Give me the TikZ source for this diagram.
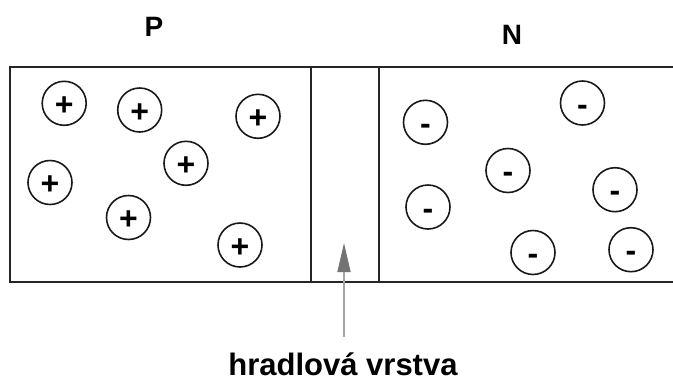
\documentclass[tikz,border=0pt]{standalone}
\usepackage{fontspec}
\setmainfont{Liberation Sans}
\usetikzlibrary{arrows.meta}
\tikzset{
  wall/.style={line width=1.8pt, draw=black!85},
  carrier/.style={circle, draw=black!90, line width=1.6pt, minimum size=44pt, inner sep=0pt,
    font=\fontsize{32}{32}\selectfont\bfseries, text height=24pt, text depth=0pt},
  region/.style={font=\fontsize{28}{28}\selectfont\bfseries, anchor=base, inner sep=0pt},
  caption/.style={font=\fontsize{31}{31}\selectfont\bfseries, anchor=base, inner sep=0pt},
  pointer/.style={line width=1.3pt, draw=black!35,
    -{Triangle[length=29pt, width=13pt, color=black!55]}}
}
\begin{document}
\begin{tikzpicture}[x=1pt, y=-1pt]
  \useasboundingbox (0,0) rectangle (673,381);

  % junction outline: open on the right
  \coordinate (tl) at (10,66.7);
  \coordinate (bl) at (10,281.7);
  \coordinate (tr) at (675,66.7);
  \coordinate (br) at (675,281.7);
  \coordinate (ltop) at (311,66.7);
  \coordinate (lbot) at (311,281.7);
  \coordinate (rtop) at (379,66.7);
  \coordinate (rbot) at (379,281.7);
  \draw[wall] (tr) -- (tl) -- (bl) -- (br);
  \draw[wall] (ltop) -- (lbot);
  \draw[wall] (rtop) -- (rbot);

  % region labels
  \node[region] (p) at (154,36) {P};
  \node[region] (n) at (512,44) {N};

  % holes in the P region
  \node[carrier] (h1) at (64.2,103.3) {+};
  \node[carrier] (h2) at (139.7,110) {+};
  \node[carrier] (h3) at (258,116.3) {+};
  \node[carrier] (h4) at (186,163.3) {+};
  \node[carrier] (h5) at (50,182.5) {+};
  \node[carrier] (h6) at (128.5,217.5) {+};
  \node[carrier] (h7) at (240,245) {+};

  % electrons in the N region
  \node[carrier] (e1) at (425.5,122.3) {-};
  \node[carrier] (e2) at (582.5,103) {-};
  \node[carrier] (e3) at (508,170.5) {-};
  \node[carrier] (e4) at (428,207) {-};
  \node[carrier] (e5) at (615,189.7) {-};
  \node[carrier] (e6) at (533,252.5) {-};
  \node[carrier] (e7) at (631,249.7) {-};

  % depletion layer caption and pointer
  \node[caption] (lbl) at (343,375.5) {hradlová vrstva};
  \coordinate (tail) at (344,337);
  \coordinate (tip) at (344,243);
  \draw[pointer] (tail) -- (tip);
\end{tikzpicture}
\end{document}
